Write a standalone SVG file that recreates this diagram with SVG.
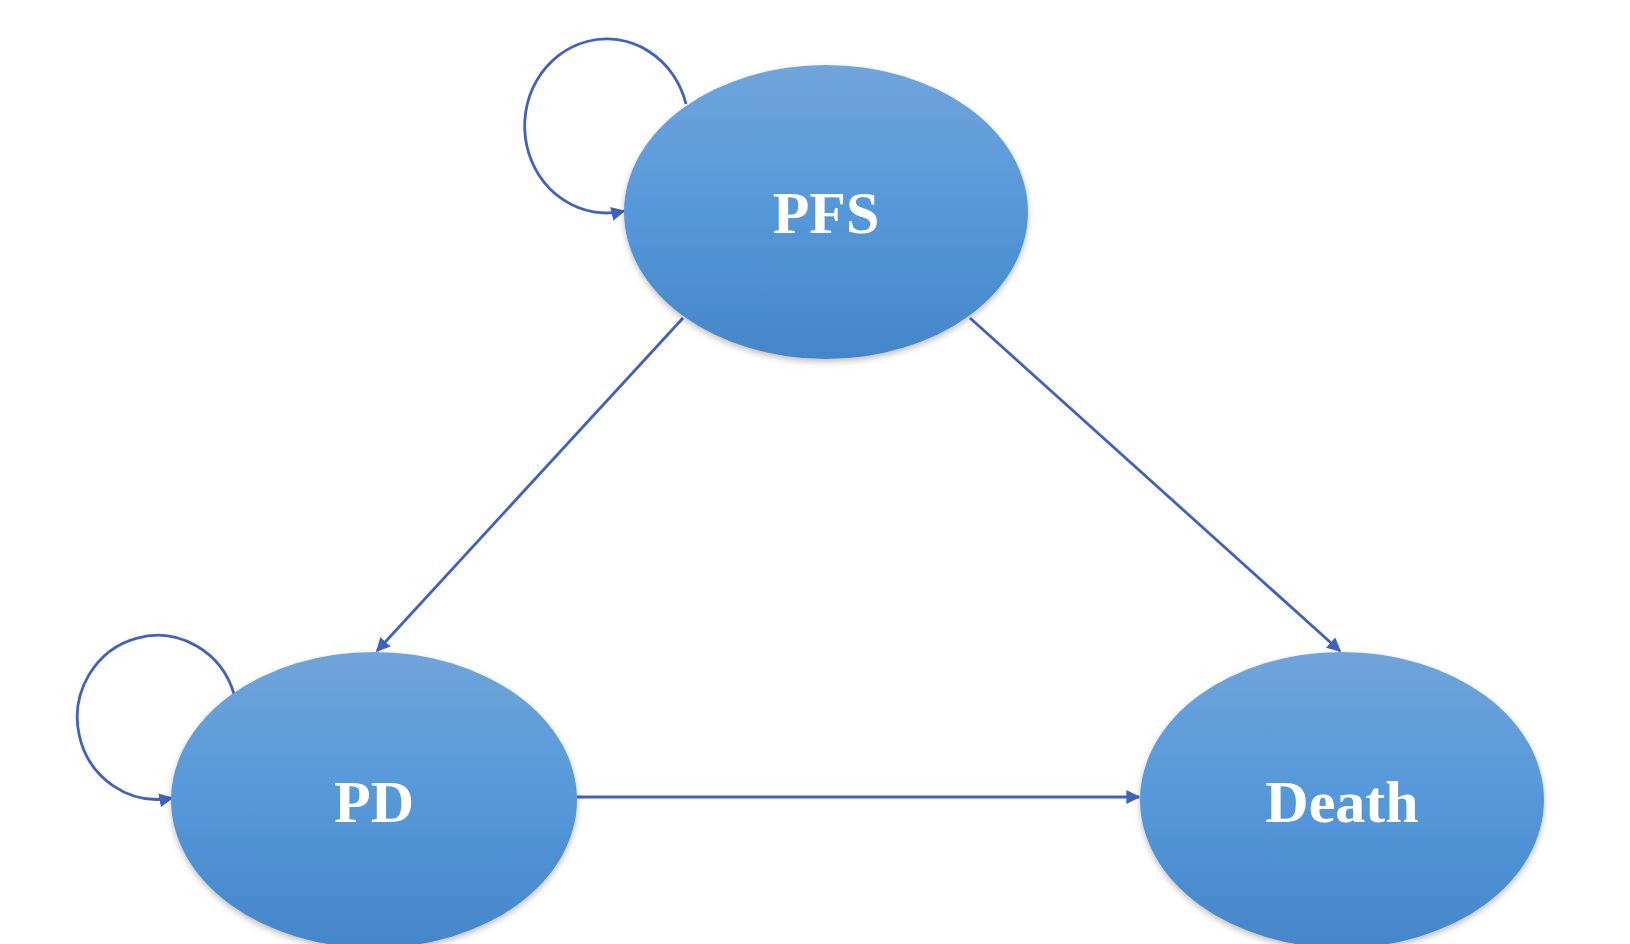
<svg xmlns="http://www.w3.org/2000/svg" width="1630" height="944" viewBox="0 0 1630 944">
  <defs>
    <linearGradient id="fill" x1="0" y1="0" x2="0" y2="1">
      <stop offset="0" stop-color="#70a4da"/>
      <stop offset="0.5" stop-color="#5598da"/>
      <stop offset="1" stop-color="#4486c9"/>
    </linearGradient>
    <filter id="shadow" x="-10%" y="-10%" width="120%" height="125%">
      <feDropShadow dx="0" dy="3" stdDeviation="3" flood-color="#000" flood-opacity="0.25"/>
    </filter>
    <marker id="arrow" viewBox="0 0 10 10" refX="9" refY="5" markerWidth="5" markerHeight="5" orient="auto" markerUnits="strokeWidth">
      <path d="M0,0 L10,5 L0,10 z" fill="#4062be"/>
    </marker>
    <style>
      .node { fill: url(#fill); filter: url(#shadow); }
      .label { font-family: "Liberation Serif", "Times New Roman", serif; font-weight: bold; font-size: 60px; fill: #ffffff; text-anchor: middle; }
      .edge { fill: none; stroke: #4062be; stroke-width: 2.8; marker-end: url(#arrow); }
    </style>
  </defs>
  <rect width="1630" height="944" fill="#ffffff"/>
  <g id="connectors">
    <path class="edge" d="M686,104 A82,87 0 1 0 624,211"/>
    <path class="edge" d="M234,694 A80,82 0 1 0 172,798"/>
    <path class="edge" d="M683,318 L377,651"/>
    <path class="edge" d="M970,318 L1340,651"/>
    <path class="edge" d="M577,797 L1139,797"/>
  </g>
  <g id="node-pfs">
    <ellipse class="node" cx="826" cy="212" rx="202" ry="147"/>
    <text class="label" x="826" y="233">PFS</text>
  </g>
  <g id="node-pd">
    <ellipse class="node" cx="374" cy="800" rx="203" ry="148"/>
    <text class="label" x="374" y="822">PD</text>
  </g>
  <g id="node-death">
    <ellipse class="node" cx="1342" cy="800" rx="202" ry="148"/>
    <text class="label" x="1342" y="822">Death</text>
  </g>
</svg>
